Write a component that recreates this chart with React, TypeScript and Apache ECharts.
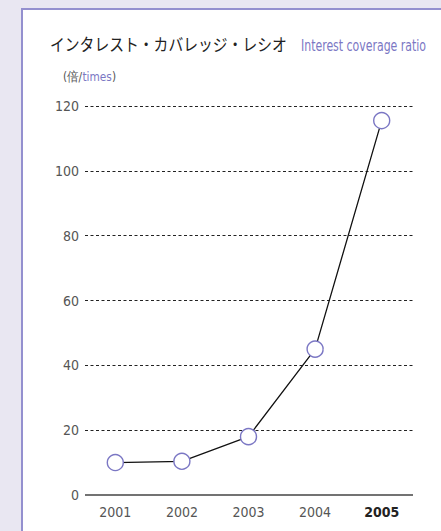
import React, { useEffect, useRef } from "react";
import * as echarts from "echarts";

const years = ["2001", "2002", "2003", "2004", "2005"];
const coverage = [10, 10.4, 18, 45, 115.5];
const yTicks = [0, 20, 40, 60, 80, 100, 120];
const titleJa = "インタレスト・カバレッジ・レシオ";
const titleEn = "Interest coverage ratio";
const unitJa = "(倍/";
const unitEn = "times";
const unitEnd = ")";

const FONT = "'DejaVu Sans Condensed', 'Liberation Sans Narrow', sans-serif";
const JFONT = "'Noto Sans CJK JP', sans-serif";
const PURPLE = "#7b77c4";

function measure(text: string, font: string): number {
  const c = document.createElement("canvas").getContext("2d");
  if (!c) return 0;
  c.font = font;
  return c.measureText(text).width;
}

export default function App() {
  const ref = useRef<HTMLDivElement>(null);
  useEffect(() => {
    if (!ref.current) return;
    const chart = echarts.init(ref.current, null, { renderer: "svg" });
    const jaFont = `400 17px ${JFONT}`;
    const enFont = `400 16px ${FONT}`;
    const jaW = measure(titleJa, jaFont) || 272;
    const enW = measure(titleEn, enFont) || 160;
    const jaScale = Math.min(1, 237 / jaW);
    const enScale = Math.min(1, 125 / enW);
    const unitFont = `400 13px ${FONT}`;
    const unitW =
      measure(unitJa, unitFont) + measure(unitEn, unitFont) + measure(unitEnd, unitFont) || 58;
    const unitScale = Math.min(1, 53 / unitW);

    chart.setOption({
      animation: false,
      backgroundColor: "#e9e7f2",
      graphic: [
        {
          type: "rect",
          z: -10,
          shape: { x: 22, y: 9, width: 430, height: 540 },
          style: { fill: "#ffffff", stroke: "#9490cf", lineWidth: 2 },
        },
        {
          type: "text",
          x: 50,
          y: 36,
          scaleX: jaScale,
          style: { text: titleJa, font: jaFont, fill: "#222222" },
        },
        {
          type: "text",
          x: 301,
          y: 37,
          scaleX: enScale,
          style: { text: titleEn, font: enFont, fill: PURPLE },
        },
        {
          type: "text",
          x: 63,
          y: 70,
          scaleX: unitScale,
          style: {
            text: `{a|${unitJa}}{b|${unitEn}}{a|${unitEnd}}`,
            font: unitFont,
            fill: "#555555",
            rich: {
              a: { fontFamily: FONT, fontSize: 13, fill: "#555555" },
              b: { fontFamily: FONT, fontSize: 13, fill: PURPLE },
            },
          },
        },
      ],
      grid: { left: 82, top: 106, width: 333, height: 389, containLabel: false },
      xAxis: {
        type: "category",
        data: years,
        boundaryGap: true,
        axisLine: { show: false },
        axisTick: { show: false },
        axisLabel: {
          interval: 0,
          margin: 10,
          fontFamily: FONT,
          fontSize: 14,
          color: "#555555",
          formatter: (v: string) => (v === "2005" ? `{b|${v}}` : v),
          rich: { b: { fontFamily: FONT, fontSize: 14, fontWeight: "bold", color: "#222222" } },
        },
      },
      yAxis: {
        type: "value",
        min: 0,
        max: 120,
        interval: 20,
        axisLine: { show: false },
        axisTick: { show: false },
        axisLabel: {
          margin: 3,
          fontFamily: FONT,
          fontSize: 14,
          color: "#555555",
          formatter: (v: number) => (yTicks.includes(v) ? String(v) : ""),
        },
        splitLine: { show: false },
      },
      series: [
        {
          type: "line",
          data: coverage,
          symbol: "circle",
          symbolSize: 16,
          showAllSymbol: true,
          lineStyle: { color: "#111111", width: 1.3 },
          itemStyle: { color: "#ffffff", borderColor: PURPLE, borderWidth: 1.4 },
          z: 5,
          markLine: {
            silent: true,
            symbol: "none",
            label: { show: false },
            z: 1,
            data: yTicks
              .filter((t) => t > 0)
              .map((t) => [
                { yAxis: t, x: 85, lineStyle: { color: "#222222", type: [3, 2.5], width: 1 } },
                { yAxis: t, x: 413 },
              ])
              .concat([
                [
                  { yAxis: 0, x: 85, lineStyle: { color: "#444444", type: "solid", width: 1.6 } } as any,
                  { yAxis: 0, x: 413 } as any,
                ],
              ]),
          },
        },
      ],
    });
    return () => chart.dispose();
  }, []);
  return (
    <div
      ref={ref}
      style={{ position: "fixed", left: 0, top: 0, width: 441, height: 531 }}
    />
  );
}
